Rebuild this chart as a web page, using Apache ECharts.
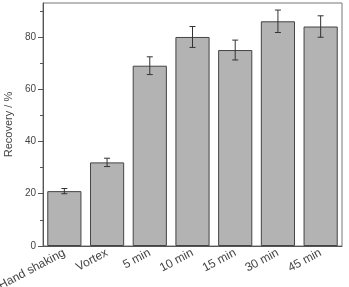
<!DOCTYPE html>
<html>
<head>
<meta charset="utf-8">
<script src="https://cdn.jsdelivr.net/npm/echarts@6/dist/echarts.min.js"></script>
<style>
  html, body { margin: 0; padding: 0; background: #fff; }
  #chart { width: 349px; height: 287px; }
</style>
</head>
<body>
<div id="chart"></div>
<script>
// data
const categories = ['Hand shaking', 'Vortex', '5 min', '10 min', '15 min', '30 min', '45 min'];
const recovery = [21, 32, 69, 80, 75, 86, 84];
const errors = [1.0, 1.6, 3.4, 4.0, 3.8, 4.3, 4.1];
const majorTicks = [0, 20, 40, 60, 80];
const minorTicks = [10, 30, 50, 70, 90];

const chart = echarts.init(document.getElementById('chart'));
const axisColor = '#555';
const font = 'Liberation Sans, Arial, sans-serif';

const option = {
  animation: false,
  grid: {
    left: 43, right: 7, top: 3, bottom: 41,
    outerBoundsMode: 'none',
    containLabel: false,
    show: true, borderColor: '#777', borderWidth: 1
  },
  xAxis: {
    type: 'category',
    data: categories,
    axisLine: { lineStyle: { color: axisColor } },
    axisTick: { alignWithLabel: true, length: 4, lineStyle: { color: axisColor } },
    axisLabel: { rotate: 28, fontSize: 12, color: '#444', fontFamily: font, margin: 6, hideOverlap: false }
  },
  yAxis: [
    {
      type: 'value',
      min: 0, max: 93,
      name: 'Recovery / %',
      nameLocation: 'middle',
      nameGap: 27,
      nameTextStyle: { fontSize: 11, color: '#444', fontFamily: font },
      splitLine: { show: false },
      axisLine: { show: true, lineStyle: { color: axisColor } },
      axisTick: { show: true, length: 5, customValues: majorTicks, lineStyle: { color: axisColor } },
      axisLabel: { customValues: majorTicks, fontSize: 10, color: '#444', fontFamily: font, margin: 7 }
    },
    {
      type: 'value',
      min: 0, max: 93,
      position: 'left',
      splitLine: { show: false },
      axisLine: { show: false },
      axisTick: { show: true, length: 3, customValues: minorTicks, lineStyle: { color: axisColor } },
      axisLabel: { show: false }
    }
  ],
  series: [
    {
      type: 'bar',
      data: recovery,
      barCategoryGap: '20%',
      itemStyle: { color: '#b3b3b3', borderColor: '#444', borderWidth: 1 }
    },
    {
      type: 'custom',
      data: recovery.map((v, i) => [i, v - errors[i], v + errors[i]]),
      renderItem: function (params, api) {
        const lo = api.coord([api.value(0), api.value(1)]);
        const hi = api.coord([api.value(0), api.value(2)]);
        const w = 3;
        const style = { stroke: '#333', lineWidth: 1 };
        return {
          type: 'group',
          children: [
            { type: 'line', shape: { x1: hi[0], y1: hi[1], x2: lo[0], y2: lo[1] }, style: style },
            { type: 'line', shape: { x1: hi[0] - w, y1: hi[1], x2: hi[0] + w, y2: hi[1] }, style: style },
            { type: 'line', shape: { x1: lo[0] - w, y1: lo[1], x2: lo[0] + w, y2: lo[1] }, style: style }
          ]
        };
      },
      z: 5
    }
  ]
};

chart.setOption(option);
</script>
</body>
</html>
